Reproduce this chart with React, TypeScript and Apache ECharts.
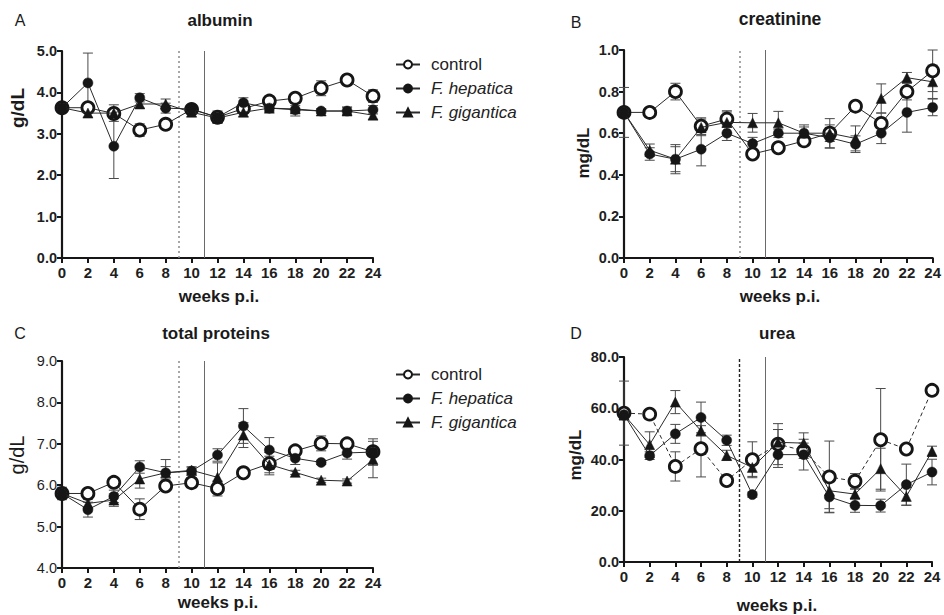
import React, { useEffect, useRef } from "react";
import * as echarts from "echarts";

// weeks post infection
const weeks = [0, 2, 4, 6, 8, 10, 12, 14, 16, 18, 20, 22, 24];
const groupNames = ["control", "F. hepatica", "F. gigantica"];

// albumin (g/dL)
const albuminControl = [3.63, 3.63, 3.49, 3.09, 3.23, 3.59, 3.4, 3.61, 3.79, 3.86, 4.1, 4.3, 3.91];
const albuminControlSem = [0.05, 0.1, 0.08, 0.15, 0.05, 0.1, 0.12, 0.1, 0.12, 0.05, 0.18, 0.12, 0.15];
const albuminHepatica = [3.63, 4.23, 2.7, 3.87, 3.62, 3.6, 3.4, 3.75, 3.62, 3.58, 3.55, 3.55, 3.58];
const albuminHepaticaSem = [0.05, 0.72, 0.78, 0.1, 0.12, 0.08, 0.15, 0.12, 0.06, 0.15, 0.05, 0.08, 0.1];
const albuminGigantica = [3.63, 3.5, 3.5, 3.72, 3.72, 3.52, 3.38, 3.52, 3.62, 3.6, 3.55, 3.55, 3.45];
const albuminGiganticaSem = [0.05, 0.1, 0.2, 0.1, 0.12, 0.1, 0.1, 0.1, 0.08, 0.08, 0.05, 0.1, 0.1];

// creatinine (mg/dL)
const creatinineControl = [0.7, 0.7, 0.8, 0.634, 0.668, 0.5, 0.53, 0.563, 0.6, 0.73, 0.647, 0.8, 0.9];
const creatinineControlSem = [0.12, 0.01, 0.04, 0.04, 0.04, 0.02, 0.02, 0.02, 0.07, 0.01, 0.05, 0.04, 0.1];
const creatinineHepatica = [0.7, 0.5, 0.475, 0.523, 0.6, 0.55, 0.6, 0.6, 0.578, 0.547, 0.6, 0.7, 0.724];
const creatinineHepaticaSem = [0.01, 0.03, 0.06, 0.08, 0.035, 0.03, 0.02, 0.04, 0.05, 0.04, 0.05, 0.095, 0.04];
const creatinineGigantica = [0.7, 0.518, 0.475, 0.628, 0.652, 0.65, 0.65, 0.6, 0.6, 0.575, 0.767, 0.867, 0.847];
const creatinineGiganticaSem = [0.01, 0.03, 0.07, 0.04, 0.05, 0.045, 0.055, 0.03, 0.04, 0.06, 0.07, 0.025, 0.08];

// total proteins (g/dL)
const proteinControl = [5.8, 5.8, 6.07, 5.42, 5.98, 6.06, 5.92, 6.3, 6.52, 6.83, 7.01, 7.0, 6.81];
const proteinControlSem = [0.15, 0.05, 0.08, 0.25, 0.05, 0.12, 0.18, 0.05, 0.27, 0.08, 0.18, 0.08, 0.1];
const proteinHepatica = [5.8, 5.41, 5.73, 6.44, 6.3, 6.34, 6.73, 7.43, 6.85, 6.65, 6.55, 6.78, 6.8];
const proteinHepaticaSem = [0.1, 0.18, 0.15, 0.15, 0.32, 0.1, 0.15, 0.42, 0.3, 0.15, 0.05, 0.15, 0.32];
const proteinGigantica = [5.8, 5.56, 5.64, 6.15, 6.3, 6.36, 6.19, 7.21, 6.5, 6.31, 6.12, 6.1, 6.62];
const proteinGiganticaSem = [0.1, 0.1, 0.15, 0.22, 0.15, 0.08, 0.35, 0.3, 0.2, 0.05, 0.05, 0.05, 0.44];

// urea (mg/dL)
const ureaControl = [58.1, 57.7, 37.3, 44.2, 31.8, 39.9, 46.0, 43.4, 33.2, 31.5, 47.7, 44.1, 67.0];
const ureaControlSem = [12.5, 1, 5.7, 11, 1, 7, 8, 3, 14, 3, 20, 1, 1];
const ureaHepatica = [57.5, 41.5, 50.0, 56.4, 47.5, 26.3, 41.9, 41.9, 25.4, 22.1, 22.0, 30.2, 35.1];
const ureaHepaticaSem = [2, 1.5, 3.7, 6, 2, 1, 5, 6, 6, 2.7, 2.5, 8, 5];
const ureaGigantica = [57.5, 45.8, 62.4, 51.2, 41.6, 36.9, 46.7, 46.4, 27.8, 26.5, 36.4, 25.6, 43.2];
const ureaGiganticaSem = [2, 5, 4.5, 2, 2, 3.5, 5, 4, 7, 2, 8, 3.5, 2];

const FONT = "'Liberation Sans', Arial, Helvetica, sans-serif";
const INK = "#161616";

type Panel = {
  grid: { left: number; top: number; width: number; height: number };
  yMin: number;
  yMax: number;
  yStep: number;
  means: number[][];
  sems: number[][];
  controlDashed: boolean;
  infectionLineDashed: boolean;
};

const panels: Panel[] = [
  {
    grid: { left: 62, top: 51, width: 311, height: 207 },
    yMin: 0, yMax: 5, yStep: 1,
    means: [albuminControl, albuminHepatica, albuminGigantica],
    sems: [albuminControlSem, albuminHepaticaSem, albuminGiganticaSem],
    controlDashed: false, infectionLineDashed: false,
  },
  {
    grid: { left: 624, top: 50, width: 312, height: 208 },
    yMin: 0, yMax: 1, yStep: 0.2,
    means: [creatinineControl, creatinineHepatica, creatinineGigantica],
    sems: [creatinineControlSem, creatinineHepaticaSem, creatinineGiganticaSem],
    controlDashed: false, infectionLineDashed: false,
  },
  {
    grid: { left: 62, top: 361, width: 311, height: 207 },
    yMin: 4, yMax: 9, yStep: 1,
    means: [proteinControl, proteinHepatica, proteinGigantica],
    sems: [proteinControlSem, proteinHepaticaSem, proteinGiganticaSem],
    controlDashed: false, infectionLineDashed: false,
  },
  {
    grid: { left: 624, top: 357, width: 308, height: 205 },
    yMin: 0, yMax: 80, yStep: 20,
    means: [ureaControl, ureaHepatica, ureaGigantica],
    sems: [ureaControlSem, ureaHepaticaSem, ureaGiganticaSem],
    controlDashed: true, infectionLineDashed: true,
  },
];

const markerStyles = [
  { symbol: "circle", symbolSize: 12, itemStyle: { color: "#ffffff", borderColor: INK, borderWidth: 2.8 } },
  { symbol: "circle", symbolSize: 10, itemStyle: { color: INK, borderColor: INK, borderWidth: 0.5 } },
  { symbol: "triangle", symbolSize: 10, itemStyle: { color: INK, borderColor: INK, borderWidth: 0.5 } },
];

function renderErrorBar(_params: any, api: any) {
  const x = api.value(0);
  const y = api.value(1);
  const e = api.value(2);
  const hi = api.coord([x, y + e]);
  const lo = api.coord([x, y - e]);
  const cap = 5;
  const style = { stroke: "#4a4a4a", lineWidth: 1 };
  return {
    type: "group",
    children: [
      { type: "line", shape: { x1: hi[0], y1: hi[1], x2: lo[0], y2: lo[1] }, style },
      { type: "line", shape: { x1: hi[0] - cap, y1: hi[1], x2: hi[0] + cap, y2: hi[1] }, style },
      { type: "line", shape: { x1: lo[0] - cap, y1: lo[1], x2: lo[0] + cap, y2: lo[1] }, style },
    ],
  };
}

function buildOption() {
  const grids: any[] = [];
  const xAxes: any[] = [];
  const yAxes: any[] = [];
  const series: any[] = [];

  panels.forEach((p, pi) => {
    const lightTicks = pi === 2;
    grids.push({ ...p.grid, containLabel: false });
    xAxes.push({
      type: "value",
      gridIndex: pi,
      min: 0,
      max: 24,
      interval: 2,
      splitLine: { show: false },
      axisLine: { show: true, onZero: false, lineStyle: { color: INK, width: 2.2 } },
      axisTick: { show: true, length: 5, lineStyle: { color: INK, width: 2 } },
      axisLabel: { color: "#1e1e1e", fontSize: 15, fontWeight: "bold", fontFamily: FONT, margin: 7 },
    });
    yAxes.push({
      type: "value",
      gridIndex: pi,
      min: p.yMin,
      max: p.yMax,
      interval: p.yStep,
      splitLine: { show: false },
      axisLine: { show: true, onZero: false, lineStyle: { color: INK, width: 2.2 } },
      axisTick: { show: true, length: 5, lineStyle: { color: INK, width: 2 } },
      axisLabel: {
        color: "#1e1e1e",
        fontSize: 14.5,
        fontWeight: lightTicks ? "normal" : "bold",
        fontFamily: FONT,
        margin: 5,
        formatter: (v: number) => v.toFixed(1),
      },
    });

    // error bars sit beneath the lines and markers
    p.means.forEach((vals, gi) => {
      series.push({
        type: "custom",
        name: `${groupNames[gi]} sem ${pi}`,
        xAxisIndex: pi,
        yAxisIndex: pi,
        z: 2,
        silent: true,
        renderItem: renderErrorBar,
        encode: { x: 0, y: 1 },
        data: weeks.map((w, i) => [w, vals[i], p.sems[gi][i]]),
      });
    });

    const order = [0, 2, 1];
    order.forEach((gi, k) => {
      const dashed = gi === 0 && p.controlDashed;
      const s: any = {
        type: "line",
        name: groupNames[gi],
        xAxisIndex: pi,
        yAxisIndex: pi,
        z: 3 + k,
        data: weeks.map((w, i) => [w, p.means[gi][i]]),
        showAllSymbol: true,
        ...markerStyles[gi],
        lineStyle: { color: "#2a2a2a", width: 1, type: dashed ? [4, 3] : "solid" },
      };
      if (k === 0) {
        // end of infection window (dotted) and week 11 reference (solid)
        s.markLine = {
          silent: true,
          symbol: ["none", "none"],
          label: { show: false },
          z: 1,
          data: [
            {
              xAxis: 9,
              lineStyle: p.infectionLineDashed
                ? { type: [3, 2], color: "#222", width: 1.4 }
                : { type: [2, 3], color: "#8a8a8a", width: 1.5 },
            },
            { xAxis: 11, lineStyle: { type: "solid", color: "#6a6a6a", width: 1 } },
          ],
        };
      }
      series.push(s);
    });
  });

  const legendBase = {
    orient: "vertical",
    left: 390,
    itemWidth: 24,
    itemHeight: 10,
    itemGap: 7,
    selectedMode: false,
    data: groupNames,
    textStyle: {
      fontSize: 17,
      fontFamily: FONT,
      color: "#222",
      padding: [0, 0, 0, 6],
      rich: { i: { fontStyle: "italic", fontSize: 17, fontFamily: FONT, color: "#222" } },
    },
    formatter: (n: string) => (n === "control" ? n : `{i|${n}}`),
  };

  const text = (
    str: string,
    x: number,
    y: number,
    opts: { size?: number; bold?: boolean; rotate?: number } = {}
  ) => ({
    type: "text",
    x,
    y,
    rotation: opts.rotate ?? 0,
    style: {
      text: str,
      fontSize: opts.size ?? 17,
      fontWeight: opts.bold ? "bold" : "normal",
      fontFamily: FONT,
      fill: "#1a1a1a",
      align: "center",
      verticalAlign: "middle",
    },
  });

  const graphic = [
    text("A", 20, 20, { size: 16 }),
    text("B", 576, 22, { size: 16 }),
    text("C", 20, 333, { size: 16 }),
    text("D", 576, 333, { size: 16 }),
    text("albumin", 220, 20, { bold: true }),
    text("creatinine", 780, 19, { bold: true, size: 17.5 }),
    text("total proteins", 216, 333, { bold: true }),
    text("urea", 777, 333, { bold: true }),
    text("g/dL", 17, 108, { bold: true, size: 19, rotate: Math.PI / 2 }),
    text("mg/dL", 583, 153, { bold: true, rotate: Math.PI / 2 }),
    text("g/dL", 17, 455, { size: 20, rotate: Math.PI / 2 }),
    text("mg/dL", 575, 455, { bold: true, rotate: Math.PI / 2 }),
    text("weeks p.i.", 219, 296, { bold: true }),
    text("weeks p.i.", 780, 296, { bold: true }),
    text("weeks p.i.", 218, 602, { bold: true }),
    text("weeks p.i.", 777, 605, { bold: true }),
  ];

  return {
    animation: false,
    backgroundColor: "#ffffff",
    grid: grids,
    xAxis: xAxes,
    yAxis: yAxes,
    series,
    legend: [
      { ...legendBase, top: 51 },
      { ...legendBase, top: 361 },
    ],
    graphic,
  };
}

export default function App() {
  const ref = useRef<HTMLDivElement>(null);

  useEffect(() => {
    if (!ref.current) return;
    const chart = echarts.init(ref.current, undefined, { renderer: "svg" });
    chart.setOption(buildOption() as any);
    return () => chart.dispose();
  }, []);

  return (
    <div
      ref={ref}
      style={{ position: "fixed", left: 0, top: 0, width: 944, height: 615, background: "#fff" }}
    />
  );
}
